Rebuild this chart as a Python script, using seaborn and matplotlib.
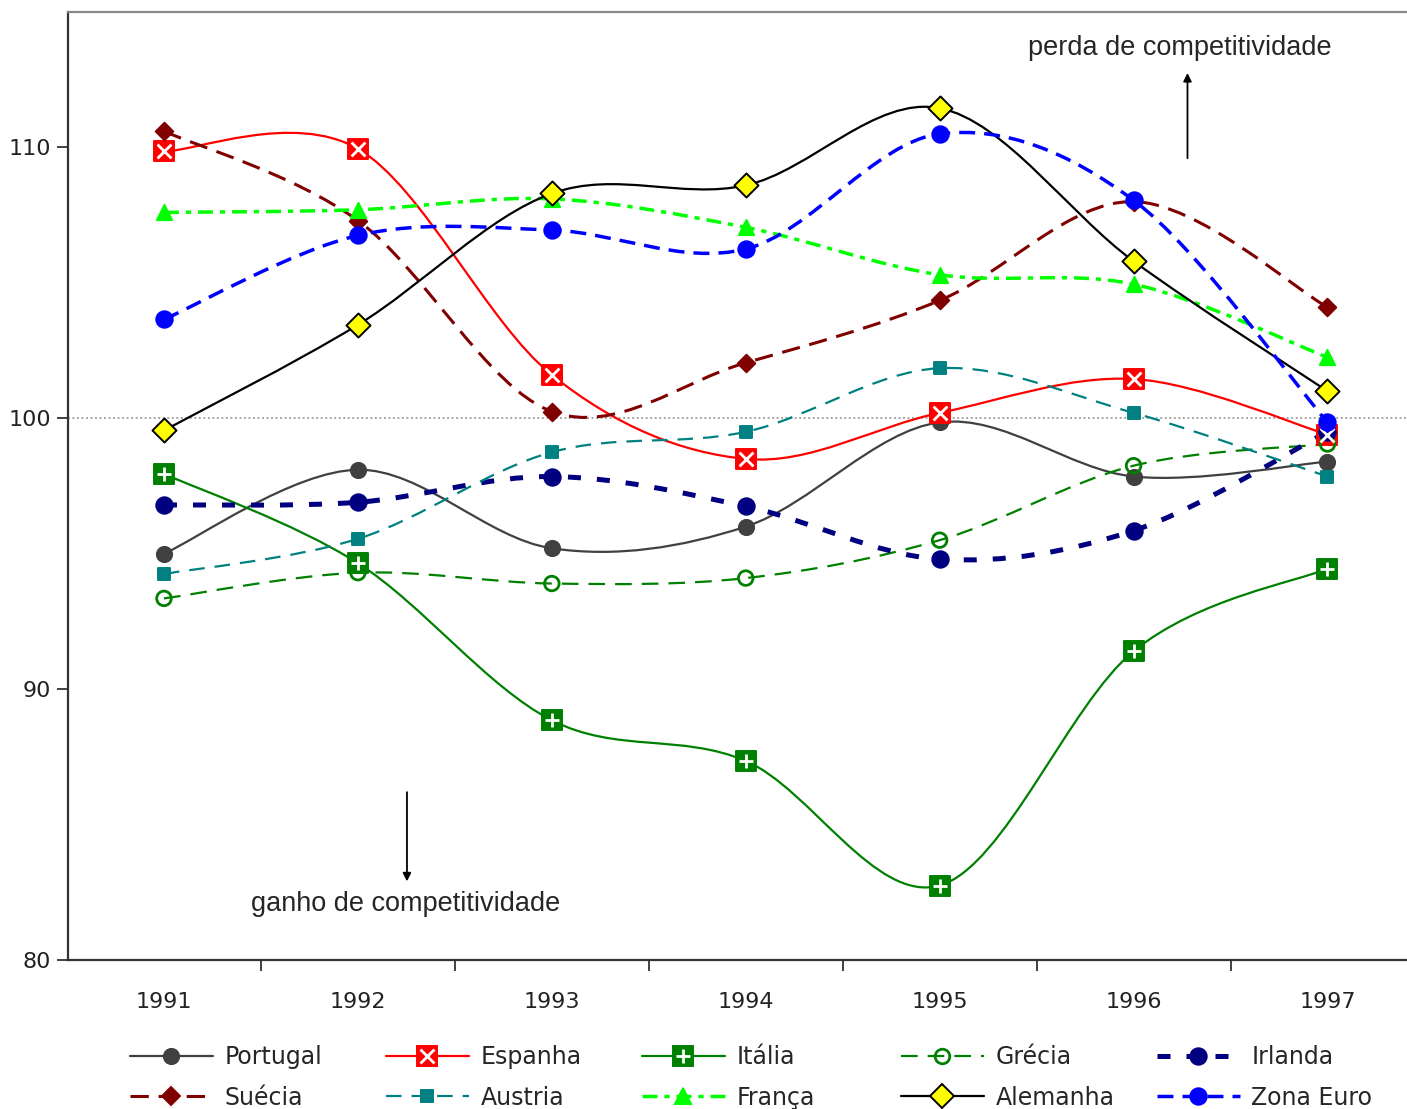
import numpy as np
import pandas as pd
import matplotlib
matplotlib.use('Agg')
import matplotlib.pyplot as plt
import seaborn as sns
from matplotlib.path import Path
from matplotlib.patches import PathPatch
from matplotlib.lines import Line2D
from matplotlib.legend_handler import HandlerTuple

# Data (index)
years = ['1991', '1992', '1993', '1994', '1995', '1996', '1997']
portugal = [95.0, 98.1, 95.2, 96.0, 99.85, 97.85, 98.4]
espanha = [109.85, 109.95, 101.6, 98.5, 100.2, 101.45, 99.4]
italia = [97.95, 94.65, 88.85, 87.35, 82.75, 91.4, 94.45]
grecia = [93.35, 94.3, 93.9, 94.1, 95.5, 98.25, 99.05]
irlanda = [96.8, 96.9, 97.85, 96.75, 94.8, 95.85, 99.5]
suecia = [110.6, 107.3, 100.25, 102.05, 104.35, 108.0, 104.1]
austria = [94.25, 95.55, 98.75, 99.5, 101.85, 100.2, 97.85]
franca = [107.6, 107.7, 108.1, 107.05, 105.3, 104.95, 102.25]
alemanha = [99.55, 103.45, 108.3, 108.6, 111.45, 105.8, 101.0]
zona_euro = [103.65, 106.75, 106.95, 106.25, 110.5, 108.05, 99.85]

sns.set_style('white')
plt.rcParams['font.family'] = ['DejaVu Sans']

fig = plt.figure(figsize=(14.07, 11.09), dpi=100)
ax = fig.add_axes([68 / 1407, 149 / 1109, 1 - 68 / 1407, (960 - 12) / 1109])

x = np.arange(len(years))


def smooth_path(xs, ys):
    # Excel-style smoothed line: cubic Bezier segments through the points
    pts = np.column_stack([xs, ys]).astype(float)
    n = len(pts)
    verts = [pts[0]]
    codes = [Path.MOVETO]
    for i in range(n - 1):
        p0 = pts[i - 1] if i > 0 else pts[i]
        p1 = pts[i]
        p2 = pts[i + 1]
        p3 = pts[i + 2] if i + 2 < n else pts[i + 1]
        c1 = p1 + (p2 - p0) / 6.0
        c2 = p2 - (p3 - p1) / 6.0
        verts += [c1, c2, p2]
        codes += [Path.CURVE4] * 3
    return Path(verts, codes)


series = [
    # name, values, color, linestyle, lw, marker, size, face, edge
    ('Portugal', portugal, '#404040', '-', 1.6, 'o', 120, '#404040', '#404040'),
    ('Espanha', espanha, '#ff0000', '-', 1.6, 's', 190, '#ff0000', '#ff0000'),
    ('Itália', italia, '#008000', '-', 1.6, 's', 190, '#008000', '#008000'),
    ('Grécia', grecia, '#008000', (0, (7.5, 4.5)), 1.6, 'o', 110, 'none', '#008000'),
    ('Irlanda', irlanda, '#000080', (0, (2.6, 3.2)), 3.6, 'o', 140, '#000080', '#000080'),
    ('Suécia', suecia, '#800000', (0, (6, 3.2)), 2.2, 'D', 80, '#800000', '#800000'),
    ('Austria', austria, '#008080', (0, (7, 4.5)), 1.6, 's', 85, '#008080', '#008080'),
    ('França', franca, '#00ff00', (0, (4.3, 2, 1.5, 2)), 2.5, '^', 120, '#00ff00', '#00ff00'),
    ('Alemanha', alemanha, '#000000', '-', 1.6, 'D', 150, '#ffff00', '#000000'),
    ('Zona Euro', zona_euro, '#0000ff', (0, (4.6, 2.6)), 2.5, 'o', 140, '#0000ff', '#0000ff'),
]

ax.axhline(100, color='#999999', lw=1.3, ls=(0, (1, 1.5)), zorder=1)

handles = {}
for k, (name, vals, color, ls, lw, mk, s, fc, ec) in enumerate(series):
    patch = PathPatch(smooth_path(x, vals), fill=False, edgecolor=color,
                      lw=lw, linestyle=ls, zorder=2 + k * 0.1, capstyle='butt')
    ax.add_patch(patch)
    df = pd.DataFrame({'x': x, 'y': vals})
    sns.scatterplot(data=df, x='x', y='y', marker=mk, s=s, color=fc,
                    edgecolor=ec, linewidth=2.0 if fc == 'none' else 1.4,
                    ax=ax, zorder=4 + k * 0.1, legend=False)
    h_line = Line2D([], [], color=color, lw=lw, ls=ls)
    h_mark = Line2D([], [], color=color, lw=0, marker=mk, markersize=np.sqrt(s),
                    markerfacecolor=fc, markeredgecolor=ec,
                    markeredgewidth=2.0 if fc == 'none' else 1.4)
    h = [h_line, h_mark]
    if name == 'Espanha':
        sns.scatterplot(data=df, x='x', y='y', marker='x', s=100, color='white',
                        linewidth=2.0, ax=ax, zorder=4.5, legend=False)
        h.append(Line2D([], [], lw=0, marker='x', color='white', markersize=10, markeredgewidth=2.0))
    if name == 'Itália':
        sns.scatterplot(data=df, x='x', y='y', marker='+', s=110, color='white',
                        linewidth=2.0, ax=ax, zorder=4.5, legend=False)
        h.append(Line2D([], [], lw=0, marker='+', color='white', markersize=10, markeredgewidth=2.0))
    handles[name] = tuple(h)

ax.set_xticks(np.arange(-0.5, 6.0, 1.0))
ax.set_xticklabels([])
ax.set_xticks(x, minor=True)
ax.set_xticklabels(years, minor=True)
ax.set_yticks([80, 90, 100, 110])
ax.set_xlim(-0.495, 6.41)
ax.set_ylim(80, 115)
ax.tick_params(axis='x', which='major', direction='out', length=8, width=1.3, color='#333333', bottom=True)
ax.tick_params(axis='x', which='minor', length=0, pad=23, labelsize=16, labelcolor='#222222')
ax.tick_params(axis='y', direction='out', length=8, width=1.3, color='#333333', left=True,
               labelsize=16, labelcolor='#222222', pad=4)
ax.set_xlabel('')
ax.set_ylabel('')

for side in ['left', 'bottom']:
    ax.spines[side].set_color('#333333')
    ax.spines[side].set_linewidth(1.6)
ax.spines['top'].set_color('#888888')
ax.spines['top'].set_linewidth(1.6)
ax.spines['right'].set_visible(False)

# annotations
ax.annotate('', xy=(5.278, 112.85), xytext=(5.278, 109.5),
            arrowprops=dict(arrowstyle='-|>', color='black', lw=1.3, mutation_scale=12))
ax.text(5.237, 113.66, 'perda de competitividade', ha='center', va='center',
        fontsize=19.5, family='Liberation Sans')
ax.annotate('', xy=(1.253, 82.8), xytext=(1.253, 86.3),
            arrowprops=dict(arrowstyle='-|>', color='black', lw=1.3, mutation_scale=12))
ax.text(1.247, 82.06, 'ganho de competitividade', ha='center', va='center',
        fontsize=19.5, family='Liberation Sans')

# legend: five fixed-width columns of two entries
columns = [['Portugal', 'Suécia'], ['Espanha', 'Austria'], ['Itália', 'França'],
           ['Grécia', 'Alemanha'], ['Irlanda', 'Zona Euro']]
col_x = [130, 386, 642, 901, 1157]
for cx, names in zip(col_x, columns):
    leg = fig.legend([handles[n] for n in names], names, loc='upper left',
                     bbox_to_anchor=(cx / 1407, 1 - 1045 / 1109),
                     handler_map={tuple: HandlerTuple(ndivide=1)}, frameon=False,
                     fontsize=17, handlelength=3.5, handletextpad=0.5,
                     labelspacing=0.7, borderpad=0.0, borderaxespad=0.0)

fig.savefig('out.png', dpi=100)
